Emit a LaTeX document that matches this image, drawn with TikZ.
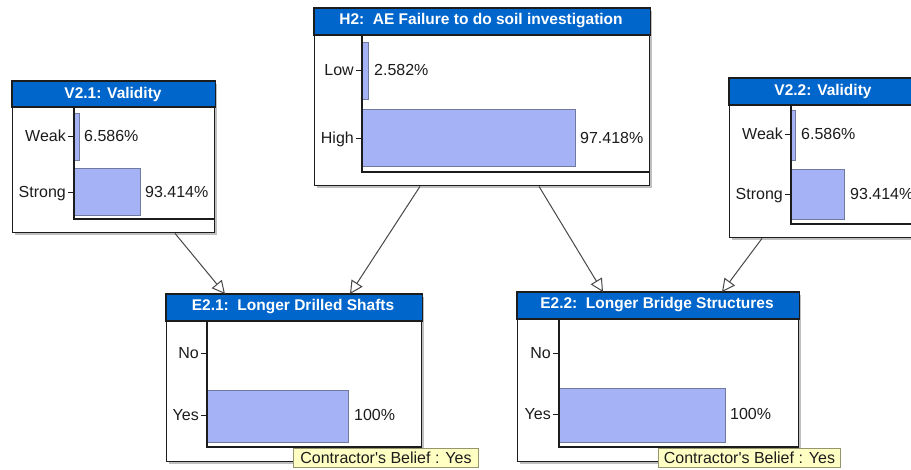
\documentclass[tikz,border=0pt]{standalone}
\usepackage{fontspec}
\setmainfont{Liberation Sans}
\usetikzlibrary{arrows.meta,calc}

\definecolor{titleblue}{RGB}{0,102,204}
\definecolor{barfill}{RGB}{165,178,246}
\definecolor{barline}{RGB}{112,122,158}
\definecolor{tipfill}{RGB}{255,255,196}
\definecolor{tipline}{RGB}{150,150,110}
\definecolor{ink}{RGB}{28,28,28}

\tikzset{
  netbox/.style={rectangle, draw=ink, line width=1.4pt, fill=white, inner sep=0pt, anchor=north west},
  boxshadow/.style={fill=black!25},
  titlebar/.style={fill=titleblue, draw=ink, line width=1.4pt},
  titletext/.style={text=white, inner sep=0pt, font=\fontsize{15.5}{18}\selectfont\bfseries},
  statelabel/.style={anchor=east, inner sep=0pt, text=ink, text height=11.5pt, text depth=0pt,
                     font=\fontsize{16}{19}\selectfont},
  pctlabel/.style={anchor=west, inner sep=0pt, text=ink, text height=11.5pt, text depth=0pt,
                   font=\fontsize{16}{19}\selectfont},
  probbar/.style={fill=barfill, draw=barline, line width=0.9pt},
  axisline/.style={draw=ink, line width=1.2pt},
  tickline/.style={draw=ink, line width=1pt},
  link/.style={draw=black!72, line width=1pt, -{Triangle[length=13pt,width=13pt,fill=white]}},
  tooltip/.style={rectangle, draw=tipline, fill=tipfill, line width=0.9pt, inner sep=0pt,
                  anchor=north west, text=ink, font=\fontsize{16}{19}\selectfont}
}

\begin{document}
\begin{tikzpicture}[x=1pt,y=-1pt]
\useasboundingbox (0,0) rectangle (911,469);
\clip (0,0) rectangle (911,469);
\fill[white] (0,0) rectangle (911,469);

% ---------- V2.1: Validity ----------
\fill[boxshadow] (15,84) rectangle (217,235);
\node[netbox, minimum width=202pt, minimum height=151pt] (v21) at (12,81) {};
\draw[titlebar] (v21.north west) rectangle ($(v21.north east)+(0,26)$);
\node[titletext] (v21t) at (113,94) {V2.1: Validity};
\draw[probbar] (74,113) rectangle (79,160);
\draw[probbar] (74,168) rectangle (140,215);
\draw[axisline] (74,107) -- (74,219) -- (v21.east |- 0,219);
\draw[tickline] (68,136) -- (74,136);
\draw[tickline] (68,192) -- (74,192);
\node[statelabel] (v21a) at (66,136) {Weak};
\node[statelabel] (v21b) at (66,192) {Strong};
\node[pctlabel] (v21pa) at (84,136) {6.586\%};
\node[pctlabel] (v21pb) at (145,192) {93.414\%};

% ---------- H2: AE Failure to do soil investigation ----------
\fill[boxshadow] (317,11) rectangle (652,188);
\node[netbox, minimum width=335pt, minimum height=177pt] (h2) at (314,8) {};
\draw[titlebar] (h2.north west) rectangle ($(h2.north east)+(0,27)$);
\node[titletext] (h2t) at (481,21) {H2:\ \ AE Failure to do soil investigation};
\draw[probbar] (362,42) rectangle (368,99);
\draw[probbar] (362,109) rectangle (575,166);
\draw[axisline] (362,35) -- (362,172) -- (h2.east |- 0,172);
\draw[tickline] (356,70) -- (362,70);
\draw[tickline] (356,138) -- (362,138);
\node[statelabel] (h2a) at (354,70) {Low};
\node[statelabel] (h2b) at (354,138) {High};
\node[pctlabel] (h2pa) at (374,70) {2.582\%};
\node[pctlabel] (h2pb) at (580,138) {97.418\%};

% ---------- V2.2: Validity ----------
\fill[boxshadow] (732,81) rectangle (920,240);
\node[netbox, minimum width=188pt, minimum height=159pt] (v22) at (729,78) {};
\draw[titlebar] (v22.north west) rectangle ($(v22.north east)+(0,27)$);
\node[titletext] (v22t) at (823,91) {V2.2: Validity};
\draw[probbar] (791,110) rectangle (795,160);
\draw[probbar] (791,169) rectangle (844,219);
\draw[axisline] (791,105) -- (791,224) -- (v22.east |- 0,224);
\draw[tickline] (785,134) -- (791,134);
\draw[tickline] (785,194) -- (791,194);
\node[statelabel] (v22a) at (783,134) {Weak};
\node[statelabel] (v22b) at (783,194) {Strong};
\node[pctlabel] (v22pa) at (801,134) {6.586\%};
\node[pctlabel] (v22pb) at (850,194) {93.414\%};

% ---------- E2.1: Longer Drilled Shafts ----------
\fill[boxshadow] (169,297) rectangle (424,464);
\node[netbox, minimum width=255pt, minimum height=167pt] (e21) at (166,294) {};
\draw[titlebar] (e21.north west) rectangle ($(e21.north east)+(0,27)$);
\node[titletext] (e21t) at (293,307) {E2.1:\ \ Longer Drilled Shafts};
\draw[probbar] (207,390) rectangle (348,442);
\draw[axisline] (207,321) -- (207,447) -- (e21.east |- 0,447);
\draw[tickline] (201,353) -- (207,353);
\draw[tickline] (201,415) -- (207,415);
\node[statelabel] (e21a) at (199,353) {No};
\node[statelabel] (e21b) at (199,415) {Yes};
\node[pctlabel] (e21pb) at (354,415) {100\%};
\node[tooltip, minimum width=185pt, minimum height=19pt] (e21tip) at (293,448) {Contractor\textquotesingle s Belief : Yes};

% ---------- E2.2: Longer Bridge Structures ----------
\fill[boxshadow] (520,295) rectangle (801,464);
\node[netbox, minimum width=281pt, minimum height=169pt] (e22) at (517,292) {};
\draw[titlebar] (e22.north west) rectangle ($(e22.north east)+(0,27)$);
\node[titletext] (e22t) at (657,305) {E2.2:\ \ Longer Bridge Structures};
\draw[probbar] (559,388) rectangle (725,442);
\draw[axisline] (559,319) -- (559,447) -- (e22.east |- 0,447);
\draw[tickline] (553,353) -- (559,353);
\draw[tickline] (553,414) -- (559,414);
\node[statelabel] (e22a) at (551,353) {No};
\node[statelabel] (e22b) at (551,414) {Yes};
\node[pctlabel] (e22pb) at (730,414) {100\%};
\node[tooltip, minimum width=182pt, minimum height=19pt] (e22tip) at (658,448) {Contractor\textquotesingle s Belief : Yes};

% ---------- influence links ----------
\draw[link] ([xshift=163pt]v21.south west) -- ([xshift=59pt]e21.north west);
\draw[link] ([xshift=106pt]h2.south west) -- ([xshift=184pt]e21.north west);
\draw[link] ([xshift=225pt]h2.south west) -- ([xshift=86pt]e22.north west);
\draw[link] ([xshift=33pt]v22.south west) -- ([xshift=205pt]e22.north west);
\end{tikzpicture}
\end{document}
